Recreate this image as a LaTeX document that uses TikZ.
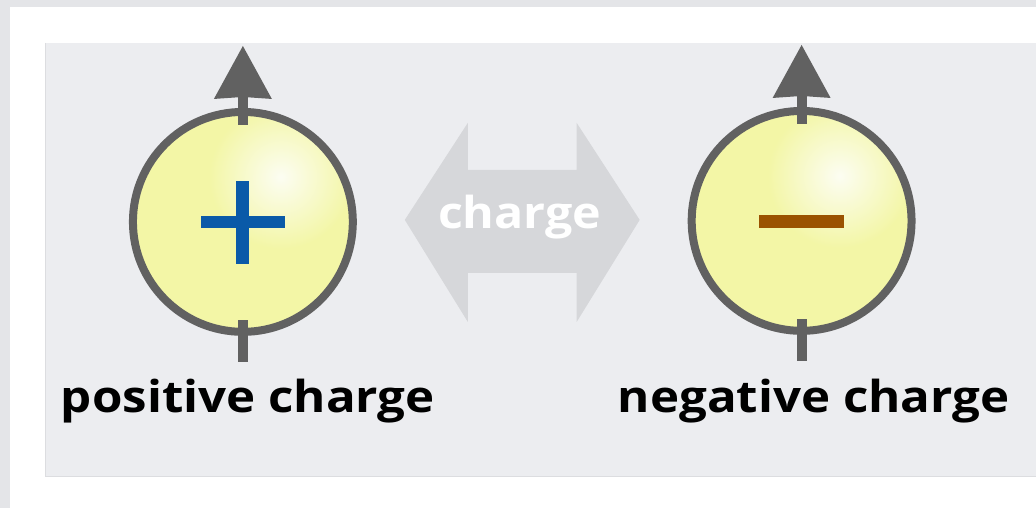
\documentclass[tikz,border=0pt]{standalone}
\usepackage{fontspec}
\setmainfont{Open Sans}
\usetikzlibrary{calc}
\definecolor{frame}{HTML}{E4E5E8}
\definecolor{panel}{HTML}{ECEDF0}
\definecolor{paneledge}{HTML}{DCDDE0}
\definecolor{ring}{HTML}{616161}
\definecolor{ballfill}{HTML}{F3F6A6}
\definecolor{ballglow}{HTML}{FCFDF2}
\definecolor{plusblue}{HTML}{0A5AA8}
\definecolor{minusbrown}{HTML}{9A5200}
\definecolor{swapgray}{HTML}{D6D7DA}
\tikzset{
  ballring/.style={draw=ring, line width=8pt},
  spinbar/.style={fill=ring},
  chargelabel/.style={font=\bfseries\fontsize{44}{50}\selectfont, anchor=base, xscale=1.12, inner sep=0pt},
  swaptext/.style={font=\bfseries\fontsize{44}{50}\selectfont, text=white, xscale=1.1, inner sep=0pt},
}
% one charged ball with its spin arrow: centre, name
\newcommand{\chargeball}[2]{%
  \coordinate (#2) at (#1);
  \begin{scope}
    \clip (#2) circle (110);
    \fill[ballfill] (#2) circle (112);
    \shade[inner color=ballglow, outer color=ballfill] ($(#2)+(38,-45)$) circle (72);
  \end{scope}
  \draw[ballring] (#2) circle (110);
  % spin arrow running through the ball, drawn over the ring
  \fill[spinbar] ($(#2)+(-5,-97)$) rectangle ($(#2)+(5,-126)$);
  \fill[spinbar] ($(#2)+(0,-176)$) -- ($(#2)+(29,-123)$) -- ($(#2)+(0,-125)$) -- ($(#2)+(-29,-123)$) -- cycle;
  \fill[spinbar] ($(#2)+(-5,98)$) rectangle ($(#2)+(5,140)$);
}
\begin{document}
\begin{tikzpicture}[x=1pt,y=-1pt]
  % window frame and card
  \fill[frame] (0,0) rectangle (1036,508);
  \fill[white] (10,7) rectangle (1036,508);
  \fill[panel] (45,43) rectangle (1036,477);
  \draw[paneledge, line width=1pt] (45.5,43) -- (45.5,476.5) -- (1036,476.5);

  % the two charges
  \chargeball{243,222}{pos}
  \chargeball{802,221}{neg}

  % plus sign
  \fill[plusblue] ($(pos)+(-6.5,-41)$) rectangle ($(pos)+(6.5,42)$);
  \fill[plusblue] ($(pos)+(-42,-6)$) rectangle ($(pos)+(42,6)$);
  % minus sign
  \fill[minusbrown] ($(neg)+(-43,-6)$) rectangle ($(neg)+(42,7)$);

  % double arrow between the charges
  \coordinate (swapL) at (405,220);
  \coordinate (swapR) at (640,220);
  \fill[swapgray] (swapL) -- (468,123) -- (468,170) -- (577,170) -- (577,123)
     -- (swapR) -- (577,322) -- (577,273) -- (468,273) -- (468,322) -- cycle;
  \node[swaptext] (swap) at (520,217) {charge};

  % labels
  \node[chargelabel] (poslabel) at (248,413) {positive charge};
  \node[chargelabel] (neglabel) at (814,413) {negative charge};
\end{tikzpicture}
\end{document}
